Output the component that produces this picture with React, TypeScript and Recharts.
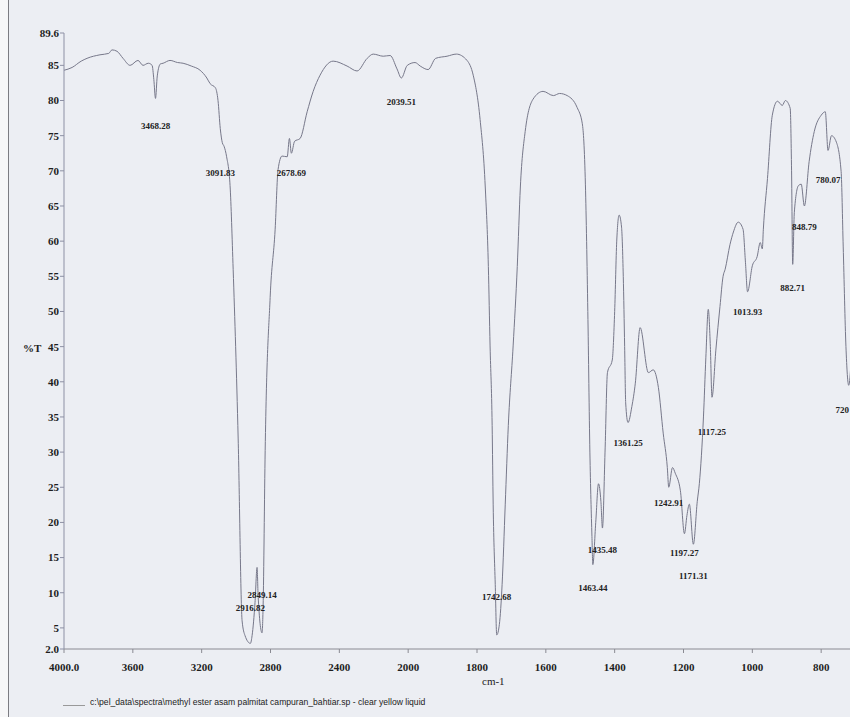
import { ComposedChart, Line, Scatter, XAxis, YAxis } from 'recharts';

// IR spectrum, methyl ester (palmitic), wavenumber cm-1 vs %T
const specWn = [
  4000, 3953, 3900, 3866, 3791, 3740, 3721, 3692, 3657, 3616, 3570, 3541, 3510, 3488, 3478,
  3468.28, 3458, 3440, 3424, 3384, 3340, 3308, 3260, 3209, 3170, 3151, 3120, 3105, 3091.83,
  3080, 3070, 3055, 3035, 3017, 2988, 2965, 2948, 2916.82, 2907, 2890, 2878, 2872, 2849.14,
  2843, 2831, 2802, 2773, 2756, 2733, 2703, 2690, 2678.69, 2660, 2628, 2587, 2552, 2512,
  2436, 2355, 2297, 2238, 2203, 2145, 2105, 2065, 2039.51, 2005, 1980, 1965, 1942, 1920,
  1887, 1860, 1829, 1811, 1791, 1776, 1767, 1762, 1756, 1753, 1747, 1742.68, 1735, 1727,
  1718, 1709, 1695, 1683, 1674, 1660, 1637, 1608, 1578, 1560, 1538, 1509, 1494, 1485, 1478,
  1472, 1466, 1463.44, 1455, 1447, 1440, 1435.48, 1428, 1421, 1407, 1400, 1394, 1387, 1380,
  1375, 1371, 1368, 1361.25, 1350, 1340, 1326, 1302, 1288, 1273, 1259, 1247, 1242.91, 1232,
  1224, 1209, 1197.27, 1190, 1183, 1171.31, 1160, 1154, 1142, 1135, 1128, 1122, 1117.25,
  1106, 1094, 1085, 1079, 1065, 1055, 1041, 1027, 1020, 1013.93, 1000, 986, 977, 971, 968,
  956, 942, 927, 913, 904, 890, 886, 882.71, 878, 866, 858, 848.79, 835, 820, 800, 788,
  780.07, 770, 756, 742, 736, 728, 720, 705, 690,
];
const specT = [
  84.3, 84.7, 85.6, 86.0, 86.5, 86.7, 87.2, 87.0, 86.0, 85.0, 85.7, 85.0, 85.3, 85.0, 83.0,
  80.3, 83.5, 85.2, 85.3, 85.7, 85.4, 85.3, 84.9, 84.3, 83.2, 82.4, 81.8, 80.0, 76.0,
  74.0, 73.5, 72.0, 67.9, 56.0, 32.0, 6.0, 3.9, 2.8, 3.9, 8.6, 13.6, 9.6, 4.3,
  8.0, 30.2, 52.0, 61.7, 70.2, 72.1, 72.0, 74.6, 72.5, 74.2, 74.6, 78.4, 81.3, 83.6,
  85.6, 84.9, 84.2, 86.0, 86.6, 86.3, 86.4, 84.5, 83.2, 85.0, 85.4, 84.9, 84.4, 86.0,
  86.3, 86.6, 85.7, 83.6, 77.3, 67.7, 56.4, 45.1, 33.8, 22.5, 11.2, 4.0, 5.5, 11.2,
  22.5, 33.8, 45.1, 56.4, 67.7, 75.6, 80.2, 81.3, 80.7, 81.0, 80.7, 79.0, 76.7, 68.0, 50.0,
  30.0, 18.0, 14.0, 20.0, 25.5, 23.0, 19.2, 30.0, 41.3, 43.1, 50.0, 60.0, 63.7, 62.0,
  55.0, 45.0, 37.0, 34.2, 36.5, 39.8, 47.7, 41.3, 41.7, 39.2, 32.7, 27.8, 25.0, 27.8,
  27.0, 24.5, 18.4, 21.0, 22.6, 16.9, 23.0, 25.5, 35.0, 43.5, 50.3, 45.0, 37.8,
  44.5, 50.7, 55.0, 56.0, 59.5, 61.3, 62.7, 61.7, 57.0, 52.8, 56.5, 57.8, 59.8, 58.9, 61.7,
  68.9, 77.9, 79.9, 79.3, 80.0, 78.9, 70.0, 56.7, 64.1, 67.9, 68.1, 65.0, 71.3, 75.6, 77.9, 78.4,
  72.9, 75.0, 74.1, 69.9, 59.3, 45.0, 39.5, 50.0, 60.0,
];

const peakWn = [
  3468.28, 3091.83, 2916.82, 2849.14, 2678.69, 2039.51, 1742.68, 1463.44, 1435.48, 1361.25,
  1242.91, 1197.27, 1171.31, 1117.25, 1013.93, 882.71, 848.79, 780.07, 720,
];
const peakT = [
  80.3, 73.0, 2.8, 4.3, 72.5, 83.2, 4.0, 14.0, 19.2, 34.2,
  25.0, 18.4, 16.9, 37.8, 52.7, 56.7, 65.0, 72.9, 39.5,
];
const peakText = [
  '3468.28', '3091.83', '2916.82', '2849.14', '2678.69', '2039.51', '1742.68', '1463.44',
  '1435.48', '1361.25', '1242.91', '1197.27', '1171.31', '1117.25', '1013.93', '882.71',
  '848.79', '780.07', '720',
];
// vertical shift of each peak label from its point, px
const labelShift = [27, 23, -36, -38, 20, 24, -38, 23, 22, 20, 16, 19, 32, 35, 19, 23, 21, 29, 25];

const xTickWn = [4000, 3600, 3200, 2800, 2400, 2000, 1800, 1600, 1400, 1200, 1000, 800];
const xTickText = ['4000.0', '3600', '3200', '2800', '2400', '2000', '1800', '1600', '1400', '1200', '1000', '800'];
const yTicks = [2, 5, 10, 15, 20, 25, 30, 35, 40, 45, 50, 55, 60, 65, 70, 75, 80, 85, 89.6];

// scale doubles below 2000 cm-1, as on the instrument printout
const toU = (wn: number) => (wn >= 2000 ? 4000 - wn : 2000 + 2 * (2000 - wn));

const spectrum = specWn.map((wn, i) => ({ u: toU(wn), t: specT[i] }));
const peaks = peakWn.map((wn, i) => ({ u: toU(wn), t: peakT[i], text: peakText[i], shift: labelShift[i] }));

const serif = '"Liberation Serif", "DejaVu Serif", serif';

const PeakLabel = (props: any) => {
  const { cx, cy, payload } = props;
  if (cx == null || cy == null) return null;
  // the last label sits on the cut edge of the scan: keep it inside
  const atEdge = cx > 840;
  return (
    <text x={atEdge ? 849 : cx} y={cy + payload.shift} dy="0.35em" textAnchor={atEdge ? 'end' : 'middle'}
      fontFamily={serif} fontSize={9} fontWeight="bold" fill="#222">
      {payload.text}
    </text>
  );
};

export default function App() {
  return (
    <div style={{
      position: 'absolute', left: 0, top: 0, width: 850, height: 717, overflow: 'hidden',
      background: '#eceef3',
    }}>
      <div style={{ position: 'absolute', left: 0, top: 0, width: 8, height: 717, background: '#f7f7f8', borderRight: '1px solid #7c7c82' }} />
      <div style={{ position: 'absolute', left: 0, top: 0 }}>
        <ComposedChart width={890} height={717} data={spectrum}
          margin={{ top: 33, right: 0, bottom: 0, left: 0 }}>
          <XAxis dataKey="u" type="number" domain={[0, 4800]} ticks={xTickWn.map(toU)}
            allowDataOverflow height={68}
            tickFormatter={(v: number) => xTickText[xTickWn.map(toU).indexOf(v)] ?? ''}
            stroke="#8a8a92" tickSize={4} tickMargin={10}
            tick={{ fill: '#1e1e1e', fontFamily: serif, fontSize: 11, fontWeight: 'bold' }} />
          <YAxis dataKey="t" type="number" domain={[2, 89.6]} ticks={yTicks} allowDataOverflow
            width={64} interval={0}
            tickFormatter={(v: number) => (v === 2 ? '2.0' : String(v))}
            stroke="#8d90a4" tickSize={4} tickMargin={1}
            tick={{ fill: '#1e1e1e', fontFamily: serif, fontSize: 11, fontWeight: 'bold' }} />
          <Line dataKey="t" type="monotone" stroke="#77788a" strokeWidth={1} dot={false}
            isAnimationActive={false} />
          <Scatter data={peaks} dataKey="t" shape={PeakLabel} isAnimationActive={false} />
        </ComposedChart>
      </div>
      <div style={{ position: 'absolute', left: 23, top: 342, fontFamily: serif, fontSize: 11, fontWeight: 'bold', color: '#222' }}>%T</div>
      <div style={{ position: 'absolute', left: 482, top: 675, fontFamily: serif, fontSize: 11, color: '#222' }}>cm-1</div>
      <div style={{ position: 'absolute', left: 63, top: 697, width: 22, height: 8, borderBottom: '1px solid #999' }} />
      <div style={{ position: 'absolute', left: 90, top: 697, fontFamily: '"Liberation Sans", Arial, sans-serif', fontSize: 8.6, color: '#222', whiteSpace: 'nowrap' }}>
        c:\pel_data\spectra\methyl ester asam palmitat campuran_bahtiar.sp - clear yellow liquid
      </div>
    </div>
  );
}
